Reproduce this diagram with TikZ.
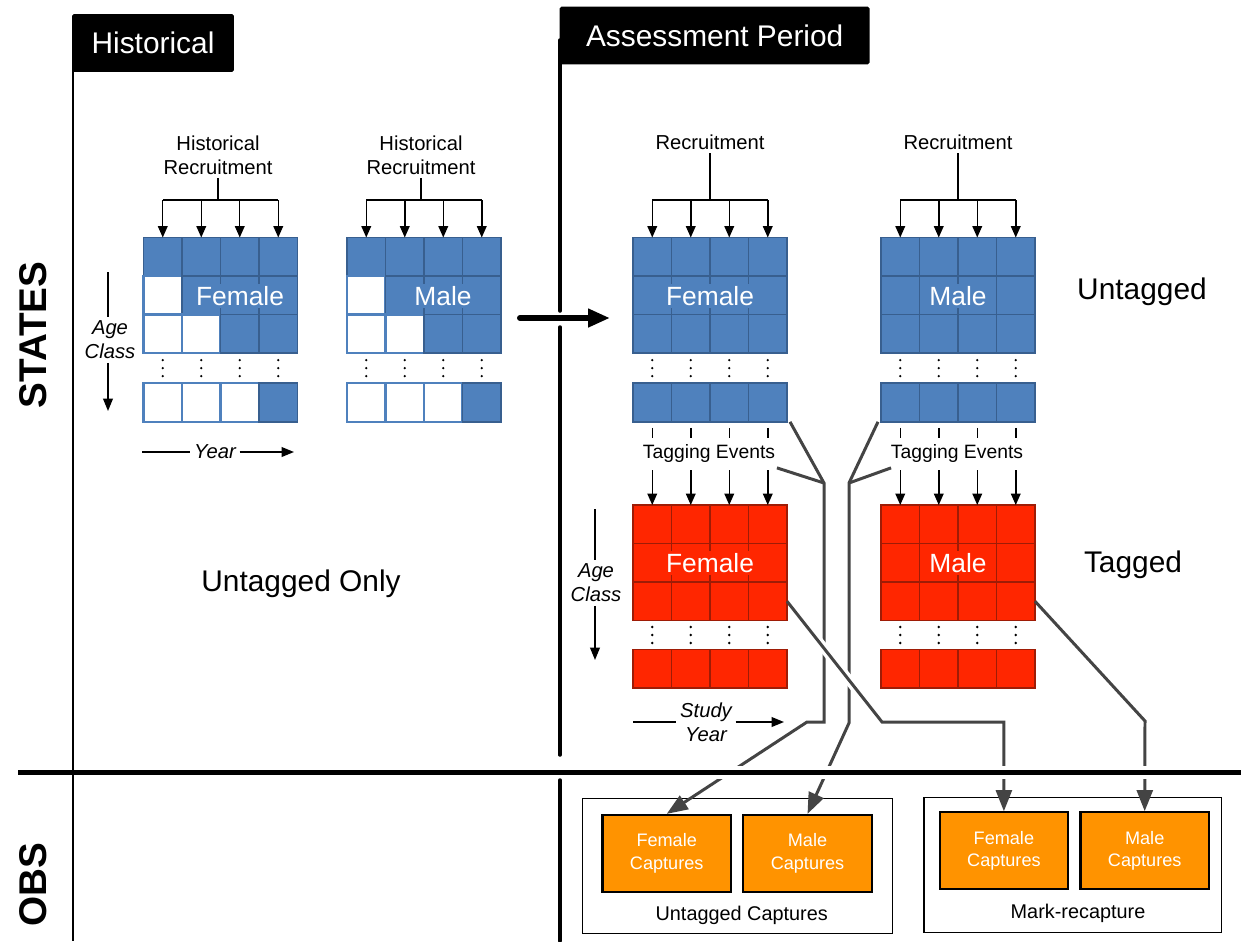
\documentclass[tikz,border=0pt]{standalone}
\usepackage{fontspec}
\setmainfont{Liberation Sans}
\usetikzlibrary{arrows.meta,calc}
\definecolor{cellblue}{HTML}{4F81BD}
\definecolor{blueedge}{HTML}{385F8F}
\definecolor{cellred}{HTML}{FF2600}
\definecolor{rededge}{HTML}{9E1C06}
\definecolor{capfill}{HTML}{FF9300}
\definecolor{linkgray}{HTML}{444444}

\tikzset{
  cellbase/.style={minimum size=0.77cm,inner sep=0pt,outer sep=0pt},
  bcell/.style={cellbase,draw=blueedge,fill=cellblue,line width=1pt},
  rcell/.style={cellbase,draw=rededge,fill=cellred,line width=1pt},
  wcell/.style={cellbase,draw=cellblue,fill=white,line width=1.3pt},
  glabel/.style={text=white,inner sep=1.5pt,font=\fontsize{15}{18}\selectfont},
  small/.style={align=center,inner sep=2pt,font=\fontsize{11.5}{13.6}\selectfont},
  smallit/.style={align=center,inner sep=2pt,font=\fontsize{11.5}{13.6}\selectfont\itshape},
  big/.style={inner sep=2pt,font=\fontsize{17}{20}\selectfont},
  side/.style={rotate=90,font=\fontsize{22}{26}\selectfont\bfseries},
  tab/.style={fill=black,text=white,inner sep=0pt,rounded corners=1pt,font=\fontsize{17}{20}\selectfont},
  feed/.style={line width=0.85pt,-{Triangle[length=6.5pt,width=5.5pt]}},
  axis/.style={line width=0.85pt},
  axisarrow/.style={line width=0.85pt,-{Triangle[length=7pt,width=5.5pt]}},
  link/.style={draw=linkgray,line width=1.7pt},
  linkarrow/.style={draw=linkgray,line width=1.7pt,-{Triangle[length=12pt,width=9pt]}},
  divider/.style={line width=1.7pt},
  capbox/.style={draw=black,line width=1.2pt,fill=capfill,text=white,align=center,
    minimum width=2.57cm,minimum height=1.54cm,inner sep=0pt,font=\fontsize{10.3}{13}\selectfont},
  group/.style={draw=black,line width=0.8pt,inner sep=0pt},
}

% Age-class grid: name, left x, top y, top of last row, cell style, staircase of blank cells (1/0)
\newcommand\cellgrid[6]{%
  \foreach \c in {1,...,4}{%
    \foreach \r in {1,2,3}{%
      \pgfmathtruncatemacro\blank{and(#6==1,\c<\r)}%
      \ifnum\blank=1 \tikzset{cur/.style={wcell}}\else\tikzset{cur/.style={#5}}\fi
      \node[cur] (#1-\r-\c) at ({#2+38.5*\c-19.25},{#3+38.5*\r-19.25}) {};
    }%
    \pgfmathtruncatemacro\blank{and(#6==1,\c<4)}%
    \ifnum\blank=1 \tikzset{cur/.style={wcell}}\else\tikzset{cur/.style={#5}}\fi
    \node[cur] (#1-b-\c) at ({#2+38.5*\c-19.25},{#4+19.25}) {};
    \foreach \d in {-8,0,8}
      \fill ({#2+38.5*\c-19.25},{(#3+115.5+#4)/2+\d}) circle[radius=0.75pt];
  }%
}

% Recruitment feed: text node name, text, centre x, text y, grid name
\newcommand\recruit[5]{%
  \node[small] (#1) at (#3,#4) {#2};
  \coordinate (#1-bar) at (#3,200);
  \draw[axis] (#1.south) -- (#1-bar);
  \draw[axis] (#5-1-1.north |- #1-bar) -- (#5-1-4.north |- #1-bar);
  \foreach \c in {1,...,4}
    \draw[feed] (#5-1-\c.north |- #1-bar) -- (#5-1-\c.north);
}

\begin{document}
\begin{tikzpicture}[x=0.02cm,y=-0.02cm]
\useasboundingbox[fill=white] (0,0) rectangle (1241,941);

% ---------- period tabs and dividers ----------
\draw[divider] (73,20) -- (73,941);
\draw[line width=2pt,line cap=round] (560,40) -- (560,311);
\draw[line width=2pt,line cap=round] (560,327) -- (560,755);
\draw[line width=2pt,line cap=round] (560,780) -- (560,941);
\node[tab,minimum width=3.24cm,minimum height=1.155cm] (tabH) at (153,43) {Historical};
\node[tab,minimum width=6.2cm,minimum height=1.152cm] (tabA) at (714.7,35.5) {Assessment Period};

\node[side] (states) at (33,335) {STATES};
\node[side] (obs) at (33,885) {OBS};

% ---------- historical grids ----------
\cellgrid{hF}{143.5}{237.5}{383.3}{bcell}{1}
\cellgrid{hM}{347}{237.5}{383.3}{bcell}{1}
\node[glabel,fill=cellblue] (hF-lab) at (240,296) {Female};
\node[glabel,fill=cellblue] (hM-lab) at (443,296) {Male};
\recruit{hrF}{Historical\\Recruitment}{218}{155}{hF}
\recruit{hrM}{Historical\\Recruitment}{421}{155}{hM}

\node[smallit] (ageH) at (110,340) {Age\\Class};
\coordinate (ageH-top) at (108,272);
\coordinate (ageH-end) at (108,411);
\draw[axis] (ageH-top) -- (ageH.north -| ageH-top);
\draw[axisarrow] (ageH.south -| ageH-top) -- (ageH-end);

\node[smallit] (yrH) at (215,452) {Year};
\coordinate (yrH-start) at (142,452);
\coordinate (yrH-end) at (294,452);
\draw[axis] (yrH-start) -- (yrH.west);
\draw[axisarrow] (yrH.east) -- (yrH-end);

\node[big] (untonly) at (301,584) {Untagged Only};

% ---------- transfer into the assessment period ----------
\coordinate (xfer-start) at (520,318);
\coordinate (xfer-end) at (610,318);
\draw[line width=3.4pt,line cap=round,-{Triangle[length=12.5pt,width=10pt]}] (xfer-start) -- (xfer-end);

% ---------- untagged grids ----------
\cellgrid{uF}{633}{237.5}{383.3}{bcell}{0}
\cellgrid{uM}{881}{237.5}{383.3}{bcell}{0}
\node[glabel,fill=cellblue] (uF-lab) at (710,296) {Female};
\node[glabel,fill=cellblue] (uM-lab) at (958,296) {Male};
\recruit{rF}{Recruitment}{710}{142}{uF}
\recruit{rM}{Recruitment}{958}{142}{uM}
\node[big] (untagged) at (1142,292) {Untagged};

% ---------- tagging events ----------
\node[small,font=\fontsize{11}{13}\selectfont] (tagF) at (709,453) {Tagging Events};
\node[small,font=\fontsize{11}{13}\selectfont] (tagM) at (957,453) {Tagging Events};

% ---------- tagged grids ----------
\cellgrid{tF}{633}{505}{649.5}{rcell}{0}
\cellgrid{tM}{881}{505}{649.5}{rcell}{0}
\node[glabel,fill=cellred] (tF-lab) at (710,563) {Female};
\node[glabel,fill=cellred] (tM-lab) at (958,563) {Male};
\node[big] (tagged) at (1133,565) {Tagged};

\foreach \g/\t in {uF/tF,uM/tM}{
  \foreach \c in {1,...,4}{
    \draw[axis] ($(\g-b-\c.south)+(0,6)$) -- ++(0,10);
    \draw[feed] ($(\t-1-\c.north)+(0,-35)$) -- (\t-1-\c.north);
  }
}

\node[smallit] (ageT) at (596,583) {Age\\Class};
\coordinate (ageT-top) at (595,509);
\coordinate (ageT-end) at (595,660);
\draw[axis] (ageT-top) -- (ageT.north -| ageT-top);
\draw[axisarrow] (ageT.south -| ageT-top) -- (ageT-end);

\node[smallit] (yrT) at (706,722) {Study\\Year};
\coordinate (yrT-start) at (633,722);
\coordinate (yrT-end) at (784,722);
\draw[axis] (yrT-start) -- (yrT.west |- yrT-start);
\draw[axisarrow] (yrT.east |- yrT-start) -- (yrT-end);

% ---------- observation groups ----------
\node[group,minimum width=6.21cm,minimum height=2.71cm] (untagbox) at (737.5,866) {};
\node[capbox] (ucF) at (666.7,853.4) {Female\\Captures};
\node[capbox] (ucM) at (807.5,853.4) {Male\\Captures};
\node[small,font=\fontsize{11.3}{13}\selectfont] (untagcap) at (741.7,915.7) {Untagged Captures};

\node[group,minimum width=5.95cm,minimum height=2.7cm] (mrbox) at (1072.9,864.8) {};
\node[capbox] (mrF) at (1003.9,850.8) {Female\\Captures};
\node[capbox] (mrM) at (1144.7,850.8) {Male\\Captures};
\node[small,font=\fontsize{11.3}{13}\selectfont] (mrcap) at (1078,913.3) {Mark-recapture};

% ---------- links from states to observations ----------
\coordinate (j1) at (824,483);
\coordinate (k1) at (824,722);
\coordinate (l1) at (807,722);
\draw[linkarrow] ($(uF-b-4.south east)+(3,0)$) -- (j1) -- (k1) -- (l1) -- (ucF.north);
\draw[link] ($(tagF.south east)+(-2,2)$) -- (j1);

\coordinate (j2) at (849,483);
\coordinate (k2) at (849,723);
\draw[linkarrow] ($(uM-b-1.south west)+(-3,0)$) -- (j2) -- (k2) -- (ucM.north);
\draw[link] ($(tagM.south west)+(4,2)$) -- (j2);

\coordinate (m3) at (882,722);
\draw[white,line width=5.5pt,shorten <=6pt,shorten >=6pt] (tF-3-4.east) -- (m3);
\draw[linkarrow] (tF-3-4.east) -- (m3) -| (mrF.north);

\coordinate (m4) at (1145,721);
\draw[linkarrow] (tM-3-4.east) -- (m4) -- (mrM.north);

% ---------- states / observations divider ----------
\fill[white] (590,766) rectangle (1241,779);
\draw[line width=2.4pt] (18,772.5) -- (1241,772.5);
\end{tikzpicture}
\end{document}
